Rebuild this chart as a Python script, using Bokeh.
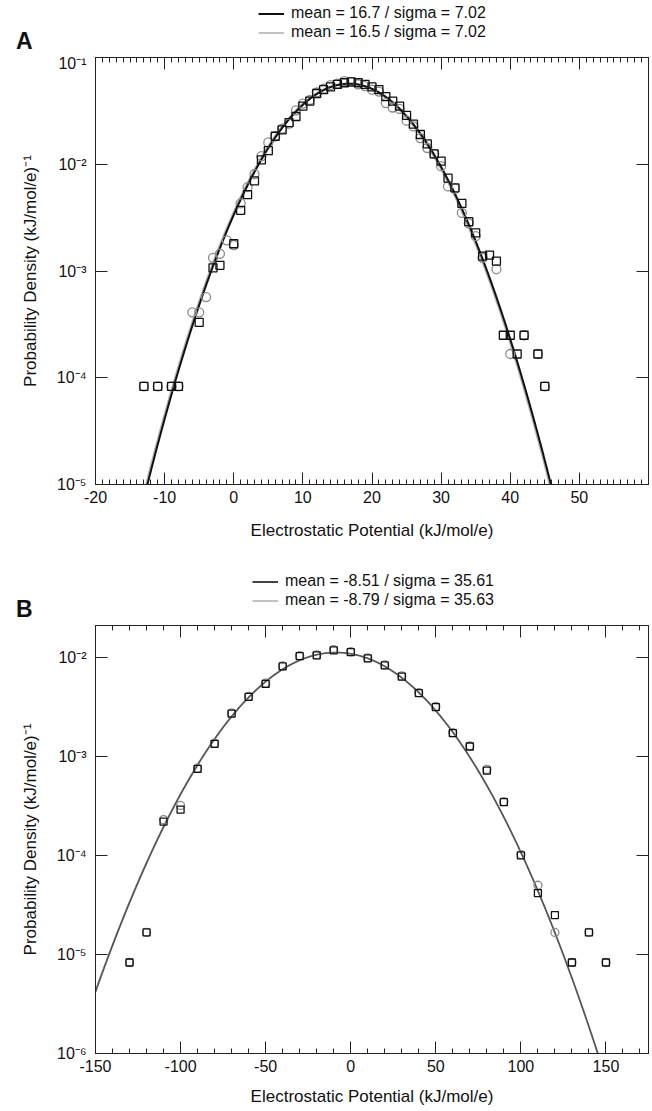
import numpy as np
from bokeh.plotting import figure
from bokeh.models import (FixedTicker, LinearAxis, LogAxis, Legend, LegendItem,
                          CustomJSTickFormatter, Range1d)
from bokeh.layouts import column
from bokeh.embed import file_html
from bokeh.resources import INLINE

# ---------------- Panel A data ----------------
a_sq_x = [-13, -11, -9, -8, -5, -3, -2, 0, 1, 2, 3, 4, 5, 6, 7, 8, 9, 10, 11, 12, 13, 14, 15, 16,
          17, 18, 19, 20, 21, 22, 23, 24, 25, 26, 27, 28, 29, 30, 31, 32, 33, 34, 35, 36, 37, 38,
          39, 40, 41, 42, 44, 45]
a_sq_y = [8.3e-5, 8.3e-5, 8.3e-5, 8.3e-5, 3.3e-4, 1.07e-3, 1.13e-3, 1.8e-3, 3.7e-3, 5.2e-3, 7.0e-3,
          1.1e-2, 1.34e-2, 1.83e-2, 2.1e-2, 2.45e-2, 2.8e-2, 3.5e-2, 3.9e-2, 4.6e-2, 5.0e-2, 5.3e-2,
          5.6e-2, 5.8e-2, 5.9e-2, 5.8e-2, 5.6e-2, 5.3e-2, 5.0e-2, 4.3e-2, 3.9e-2, 3.5e-2, 2.87e-2,
          2.38e-2, 1.9e-2, 1.55e-2, 1.25e-2, 1.07e-2, 7.4e-3, 6.0e-3, 4.3e-3, 2.9e-3, 2.28e-3,
          1.38e-3, 1.41e-3, 1.24e-3, 2.5e-4, 2.5e-4, 1.67e-4, 2.5e-4, 1.67e-4, 8.3e-5]
a_ci_x = [-13, -11, -9, -8, -6, -5, -4, -3, -2, -1, 0, 1, 2, 3, 4, 5, 6, 7, 8, 9, 10, 11, 12, 13,
          14, 15, 16, 17, 18, 19, 20, 21, 22, 23, 24, 25, 26, 27, 28, 29, 30, 31, 32, 33, 34, 35,
          36, 38, 40, 42, 44, 45]
a_ci_y = [8.3e-5, 8.3e-5, 8.3e-5, 8.3e-5, 4.1e-4, 4.1e-4, 5.7e-4, 1.33e-3, 1.45e-3, 1.94e-3,
          1.75e-3, 4.3e-3, 6.1e-3, 8.1e-3, 1.19e-2, 1.6e-2, 1.83e-2, 2.15e-2, 2.4e-2, 3.2e-2,
          3.7e-2, 4.0e-2, 4.7e-2, 5.1e-2, 5.5e-2, 5.7e-2, 6.0e-2, 5.9e-2, 5.6e-2, 5.4e-2, 5.0e-2,
          4.8e-2, 3.74e-2, 3.4e-2, 3.3e-2, 2.56e-2, 2.26e-2, 1.76e-2, 1.42e-2, 1.25e-2, 9.6e-3,
          6.2e-3, 5.9e-3, 3.5e-3, 2.8e-3, 2.12e-3, 1.33e-3, 1.04e-3, 1.67e-4, 2.5e-4, 1.67e-4,
          8.3e-5]
a_means = [16.7, 16.5]
a_sigmas = [7.02, 7.02]
a_legend = ["mean = 16.7 / sigma = 7.02", "mean = 16.5 / sigma = 7.02"]
a_xticks = [-20, -10, 0, 10, 20, 30, 40, 50, 60]
a_xlabels = ["-20", "-10", "0", "10", "20", "30", "40", "50", ""]
a_yticks = [1e-5, 1e-4, 1e-3, 1e-2, 1e-1]

# ---------------- Panel B data ----------------
b_sq_x = [-130, -120, -110, -100, -90, -80, -70, -60, -50, -40, -30, -20, -10, 0, 10, 20, 30,
          40, 50, 60, 70, 80, 90, 100, 110, 120, 130, 140, 150]
b_sq_y = [8.3e-6, 1.67e-5, 2.2e-4, 2.9e-4, 7.5e-4, 1.34e-3, 2.7e-3, 4.0e-3, 5.4e-3, 8.1e-3,
          1.03e-2, 1.05e-2, 1.18e-2, 1.13e-2, 9.8e-3, 8.3e-3, 6.4e-3, 4.36e-3, 3.15e-3, 1.72e-3,
          1.26e-3, 7.2e-4, 3.45e-4, 1.0e-4, 4.17e-5, 2.5e-5, 8.3e-6, 1.67e-5, 8.3e-6]
b_ci_x = [-130, -120, -110, -100, -90, -80, -70, -60, -50, -40, -30, -20, -10, 0, 10, 20, 30,
          40, 50, 60, 70, 80, 90, 100, 110, 120, 130, 140, 150]
b_ci_y = [8.3e-6, 1.67e-5, 2.3e-4, 3.2e-4, 7.6e-4, 1.36e-3, 2.75e-3, 4.05e-3, 5.5e-3, 8.2e-3,
          1.04e-2, 1.06e-2, 1.2e-2, 1.14e-2, 9.9e-3, 8.4e-3, 6.5e-3, 4.4e-3, 3.2e-3, 1.74e-3,
          1.28e-3, 7.4e-4, 3.5e-4, 1.02e-4, 5.0e-5, 1.67e-5, 8.3e-6, 1.67e-5, 8.3e-6]
b_means = [-8.51, -8.79]
b_sigmas = [35.61, 35.63]
b_legend = ["mean = -8.51 / sigma = 35.61", "mean = -8.79 / sigma = 35.63"]
b_xticks = [-150, -100, -50, 0, 50, 100, 150]
b_xlabels = ["-150", "-100", "-50", "0", "50", "100", "150"]
b_yticks = [1e-6, 1e-5, 1e-4, 1e-3, 1e-2]

FONT = "Liberation Sans"
AXC = "#222222"
TXT = "#111111"
W = 652
LB, RB = 95, 4          # frame borders (left / right), shared by all plots
FW = W - LB - RB
ROW_H = 19

sup_code = """
const sup = {"-": "\\u207b", "0": "\\u2070", "1": "\\u00b9", "2": "\\u00b2", "3": "\\u00b3",
             "4": "\\u2074", "5": "\\u2075", "6": "\\u2076", "7": "\\u2077", "8": "\\u2078", "9": "\\u2079"};
const e = Math.round(Math.log10(tick));
return "10" + String(e).split("").map(c => sup[c]).join("");
"""


def gauss(x, m, s):
    return np.exp(-0.5 * ((x - m) / s) ** 2) / (s * np.sqrt(2 * np.pi))


def style_axis(ax, tick_in, minor_in):
    ax.axis_line_color = AXC
    ax.major_tick_line_color = AXC
    ax.minor_tick_line_color = AXC
    ax.major_tick_in = tick_in
    ax.major_tick_out = 0
    ax.minor_tick_in = minor_in
    ax.minor_tick_out = 0
    ax.major_label_text_font = FONT
    ax.major_label_text_font_size = "16px"
    ax.major_label_text_color = TXT
    ax.axis_label_text_font = FONT
    ax.axis_label_text_font_size = "17px"
    ax.axis_label_text_font_style = "normal"
    ax.axis_label_text_color = TXT


def make_header(letter, legend_labels, line_colors, line_widths, height, row1_y, letter_y,
                legend_left):
    h = figure(width=W, height=height, x_range=Range1d(0, FW), y_range=Range1d(height, 0),
               x_axis_type=None, output_backend="svg", toolbar_location=None, title=None,
               min_border_left=LB, min_border_right=RB, min_border_top=0, min_border_bottom=0)
    h.outline_line_color = None
    h.grid.visible = False
    # panel letter drawn as the single tick label of an invisible axis
    ya = h.yaxis[0]
    ya.ticker = FixedTicker(ticks=[letter_y], minor_ticks=[])
    ya.major_label_overrides = {letter_y: letter}
    ya.major_label_text_font = FONT
    ya.major_label_text_font_size = "23px"
    ya.major_label_text_font_style = "bold"
    ya.major_label_text_color = TXT
    ya.major_label_standoff = LB - 38
    ya.axis_line_color = None
    ya.major_tick_line_color = None
    ya.minor_tick_line_color = None
    # legend samples (renderers kept outside the visible ranges)
    rs = [h.line(x=[-50, -40], y=[-50, -50], line_color=c, line_width=w)
          for c, w in zip(line_colors, line_widths)]
    leg = Legend(items=[LegendItem(label=l, renderers=[r]) for l, r in zip(legend_labels, rs)],
                 orientation="vertical")
    leg.label_text_font = FONT
    leg.label_text_font_size = "16px"
    leg.label_text_color = TXT
    leg.label_height = ROW_H
    leg.glyph_height = ROW_H
    leg.glyph_width = 26
    leg.label_standoff = 7
    leg.spacing = 0
    leg.padding = 0
    leg.margin = 0
    leg.border_line_color = None
    leg.background_fill_alpha = 0
    box_bottom = row1_y - ROW_H / 2 + 2 * ROW_H
    leg.location = (legend_left - LB, height - box_bottom)
    h.add_layout(leg, "center")
    return h


def make_panel(xr, yr, xticks, xlabels, minor, yticks, sq_x, sq_y, ci_x, ci_y,
               means, sigmas, line_colors, line_widths, sq_size, ci_size,
               height, top_border, bottom_border, xlab_standoff):
    p = figure(width=W, height=height, x_range=Range1d(*xr), y_range=Range1d(*yr),
               y_axis_type="log", output_backend="svg", toolbar_location=None, title=None,
               min_border_left=LB, min_border_right=RB,
               min_border_top=top_border, min_border_bottom=bottom_border)
    p.grid.visible = False
    p.outline_line_color = AXC
    p.background_fill_color = "white"

    xa = p.xaxis[0]
    xa.ticker = FixedTicker(ticks=xticks, minor_ticks=minor)
    xa.major_label_overrides = {t: l for t, l in zip(xticks, xlabels)}
    xa.axis_label = "Electrostatic Potential (kJ/mol/e)"
    xa.major_label_standoff = 6
    xa.axis_label_standoff = xlab_standoff
    style_axis(xa, 12, 5)
    ya = p.yaxis[0]
    ya.ticker = FixedTicker(ticks=yticks, minor_ticks=[])
    ya.formatter = CustomJSTickFormatter(code=sup_code)
    ya.axis_label = "Probability Density (kJ/mol/e)\u207b\u00b9"
    ya.major_label_standoff = 9
    ya.axis_label_standoff = 14
    style_axis(ya, 12, 0)

    # mirrored top / right axes, ticks only
    ta = LinearAxis(ticker=FixedTicker(ticks=xticks, minor_ticks=minor))
    style_axis(ta, 12, 5)
    ta.major_label_overrides = {t: "" for t in xticks}
    ta.major_label_text_font_size = "1px"
    ta.major_label_text_color = None
    ta.major_label_standoff = 0
    p.add_layout(ta, "above")
    ra = LogAxis(ticker=FixedTicker(ticks=yticks, minor_ticks=[]))
    style_axis(ra, 12, 0)
    ra.major_label_overrides = {t: "" for t in yticks}
    ra.major_label_text_font_size = "1px"
    ra.major_label_text_color = None
    ra.major_label_standoff = 0
    p.add_layout(ra, "right")

    xs = np.linspace(xr[0], xr[1], 1201)
    p.line(xs, gauss(xs, means[1], sigmas[1]), line_color=line_colors[1], line_width=line_widths[1])
    p.line(xs, gauss(xs, means[0], sigmas[0]), line_color=line_colors[0], line_width=line_widths[0])

    p.scatter(ci_x, ci_y, marker="circle", size=ci_size, fill_color=None,
              line_color="#8a8a8a", line_width=1.3)
    p.scatter(sq_x, sq_y, marker="square", size=sq_size, fill_color=None,
              line_color=TXT, line_width=1.3)
    return p


hA = make_header("A", a_legend, ["#111111", "#bbbbbb"], [2.0, 1.8], height=54,
                 row1_y=13, letter_y=40, legend_left=258)
pA = make_panel((-20, 60), (1e-5, 1e-1), a_xticks, a_xlabels, list(range(-20, 61)),
                a_yticks, a_sq_x, a_sq_y, a_ci_x, a_ci_y, a_means, a_sigmas,
                ["#111111", "#b0b0b0"], [2.0, 1.8], 8, 9,
                height=506, top_border=3, bottom_border=76, xlab_standoff=15)
hB = make_header("B", b_legend, ["#444444", "#bbbbbb"], [2.0, 1.8], height=62,
                 row1_y=21, letter_y=48, legend_left=252)
pB = make_panel((-150, 175), (1e-6, 0.021), b_xticks, b_xlabels, list(range(-150, 171, 10)),
                b_yticks, b_sq_x, b_sq_y, b_ci_x, b_ci_y, b_means, b_sigmas,
                ["#555555", "#9a9a9a"], [1.6, 1.3], 7, 8,
                height=489, top_border=3, bottom_border=58, xlab_standoff=12)

layout = column(hA, pA, hB, pB)
open("out.html", "w").write(file_html(layout, INLINE))
